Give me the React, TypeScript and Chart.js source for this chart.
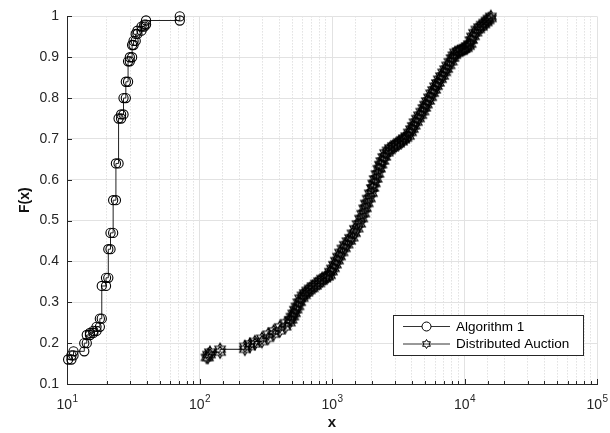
import React, { useEffect, useRef } from 'react';
import { Chart, registerables } from 'chart.js';

Chart.register(...registerables);

// ---- data ----
const seriesLabels = ['Algorithm 1', 'Distributed Auction'];

const alg1X = [10.2, 10.8, 11.2, 13.5, 14.1, 14.9, 15.8, 16.7, 17.7, 18.3, 19.7, 20.5, 21.3, 22.3, 23.4, 24.5, 25.6, 26.7, 27.8, 28.9, 29.8, 31.0, 31.8, 33.0, 34.0, 36.5, 38.3, 39.5, 71.0];
const alg1F = [0.16, 0.17, 0.18, 0.20, 0.22, 0.225, 0.23, 0.24, 0.26, 0.34, 0.36, 0.43, 0.47, 0.55, 0.64, 0.75, 0.76, 0.80, 0.84, 0.89, 0.90, 0.93, 0.94, 0.957, 0.965, 0.975, 0.98, 0.99, 1.0];

const daX = [113, 116, 120, 143, 220, 240, 262, 296, 330, 363, 404, 446, 480, 495, 510, 525, 540, 558, 575, 600, 624, 650, 680, 715, 755, 800, 840, 890, 930, 965, 1000, 1035, 1070, 1110, 1150, 1200, 1250, 1310, 1370, 1430, 1490, 1560, 1630, 1690, 1750, 1800, 1860, 1930, 2000, 2050, 2100, 2170, 2240, 2300, 2360, 2440, 2520, 2630, 2740, 2890, 3040, 3200, 3370, 3500, 3640, 3800, 3950, 4070, 4200, 4370, 4540, 4720, 4900, 5050, 5200, 5400, 5600, 5800, 6000, 6200, 6400, 6650, 6900, 7150, 7400, 7700, 8000, 8250, 8500, 8900, 9300, 9650, 10000, 10400, 10800, 11100, 11400, 11800, 12300, 12900, 13500, 14100, 14700, 15200, 15800];
const daF = [0.165, 0.172, 0.178, 0.185, 0.192, 0.198, 0.204, 0.212, 0.222, 0.230, 0.240, 0.250, 0.257, 0.265, 0.273, 0.282, 0.290, 0.300, 0.310, 0.317, 0.323, 0.329, 0.334, 0.340, 0.346, 0.352, 0.358, 0.362, 0.366, 0.375, 0.383, 0.392, 0.402, 0.412, 0.422, 0.432, 0.441, 0.450, 0.458, 0.469, 0.480, 0.492, 0.505, 0.517, 0.530, 0.542, 0.554, 0.567, 0.580, 0.591, 0.602, 0.614, 0.627, 0.637, 0.646, 0.656, 0.666, 0.672, 0.678, 0.683, 0.688, 0.693, 0.698, 0.702, 0.707, 0.716, 0.724, 0.732, 0.741, 0.750, 0.758, 0.767, 0.776, 0.784, 0.793, 0.802, 0.812, 0.820, 0.829, 0.837, 0.846, 0.854, 0.863, 0.871, 0.880, 0.889, 0.898, 0.905, 0.912, 0.915, 0.917, 0.920, 0.922, 0.927, 0.932, 0.942, 0.951, 0.960, 0.968, 0.974, 0.980, 0.985, 0.990, 0.995, 1.0];

const xMin = 10;
const xMax = 100000;
const yMin = 0.1;
const yMax = 1;
const yStep = 0.1;
const xDecades = [10, 100, 1000, 10000, 100000];
const xExponents = ['1', '2', '3', '4', '5'];

const FONT = "'Liberation Sans', Arial, Helvetica, sans-serif";
const AXIS_COLOR = '#262626';

function stairs(xs: number[], fs: number[]) {
  const pts: { x: number; y: number }[] = [];
  for (let i = 0; i < xs.length; i++) {
    if (i > 0) pts.push({ x: xs[i], y: fs[i - 1] });
    pts.push({ x: xs[i], y: fs[i] });
  }
  return pts;
}

function isPow10(v: number) {
  const l = Math.log10(v);
  return Math.abs(l - Math.round(l)) < 1e-6;
}

function makeHexagram(R: number) {
  const size = Math.ceil(R * 2 + 4);
  const c = document.createElement('canvas');
  c.width = size;
  c.height = size;
  const g = c.getContext('2d')!;
  drawHexagram(g, size / 2, size / 2, R, 1.2);
  return c;
}

function drawHexagram(g: CanvasRenderingContext2D, cx: number, cy: number, R: number, lw = 1) {
  const r = R / Math.sqrt(3);
  g.beginPath();
  for (let k = 0; k < 12; k++) {
    const ang = -Math.PI / 2 + (k * Math.PI) / 6;
    const rad = k % 2 === 0 ? R : r;
    const px = cx + rad * Math.cos(ang);
    const py = cy + rad * Math.sin(ang);
    if (k === 0) g.moveTo(px, py);
    else g.lineTo(px, py);
  }
  g.closePath();
  g.strokeStyle = '#000';
  g.lineWidth = lw;
  g.stroke();
}

const decorPlugin = {
  id: 'decor',
  afterDraw(chart: any) {
    const ctx: CanvasRenderingContext2D = chart.ctx;
    const xs = chart.scales.x;
    const ys = chart.scales.y;
    const area = chart.chartArea;
    ctx.save();
    // inward tick marks
    ctx.strokeStyle = AXIS_COLOR;
    ctx.lineWidth = 1;
    xs.ticks.forEach((t: any) => {
      const px = Math.round(xs.getPixelForValue(t.value)) + 0.5;
      ctx.beginPath();
      ctx.moveTo(px, area.bottom);
      ctx.lineTo(px, area.bottom - (isPow10(t.value) ? 5 : 3));
      ctx.stroke();
    });
    ys.ticks.forEach((t: any) => {
      const py = Math.round(ys.getPixelForValue(t.value)) + 0.5;
      ctx.beginPath();
      ctx.moveTo(area.left, py);
      ctx.lineTo(area.left + 5, py);
      ctx.stroke();
    });
    // x tick labels with superscript exponents
    ctx.fillStyle = AXIS_COLOR;
    ctx.textBaseline = 'middle';
    ctx.textAlign = 'left';
    xDecades.forEach((v, i) => {
      const px = xs.getPixelForValue(v);
      ctx.font = `14px ${FONT}`;
      const w1 = ctx.measureText('10').width;
      ctx.font = `10px ${FONT}`;
      const w2 = ctx.measureText(xExponents[i]).width;
      const start = px - (w1 + w2) / 2;
      ctx.font = `14px ${FONT}`;
      ctx.fillText('10', start, 405);
      ctx.font = `10px ${FONT}`;
      ctx.fillText(xExponents[i], start + w1 + 0.5, 399);
    });
    // legend
    const bx = 393, by = 315, bw = 190, bh = 40;
    ctx.fillStyle = '#ffffff';
    ctx.fillRect(bx, by, bw, bh);
    ctx.strokeStyle = AXIS_COLOR;
    ctx.lineWidth = 1;
    ctx.strokeRect(bx + 0.5, by + 0.5, bw, bh);
    const rows = [326.5, 344];
    chart.data.datasets.forEach((ds: any, i: number) => {
      const y = rows[i];
      ctx.strokeStyle = '#333';
      ctx.lineWidth = 1;
      ctx.beginPath();
      ctx.moveTo(403, y);
      ctx.lineTo(450, y);
      ctx.stroke();
      if (i === 0) {
        ctx.fillStyle = '#fff';
        ctx.beginPath();
        ctx.arc(426.5, y, 4.5, 0, Math.PI * 2);
        ctx.fill();
        ctx.strokeStyle = '#000';
        ctx.stroke();
      } else {
        drawHexagram(ctx, 426.5, y, 4.5);
      }
      ctx.fillStyle = '#000';
      ctx.font = `13.5px ${FONT}`;
      ctx.textBaseline = 'middle';
      ctx.fillText(ds.label, 456, y + 0.5);
    });
    ctx.restore();
  },
};

export default function App() {
  const ref = useRef<HTMLCanvasElement | null>(null);
  useEffect(() => {
    document.body.style.margin = '0';
    const canvas = ref.current!;
    const hex = makeHexagram(6);
    const chart = new Chart(canvas, {
      type: 'line',
      data: {
        datasets: [
          {
            label: seriesLabels[0],
            data: stairs(alg1X, alg1F),
            borderColor: '#222',
            borderWidth: 1,
            pointStyle: 'circle',
            pointRadius: 4.6,
            pointBorderColor: '#000',
            pointBackgroundColor: 'rgba(0,0,0,0)',
            pointBorderWidth: 1.1,
            tension: 0,
            fill: false,
            clip: false as any,
          },
          {
            label: seriesLabels[1],
            data: stairs(daX, daF),
            borderColor: '#111',
            borderWidth: 1,
            pointStyle: hex as any,
            pointRadius: 6,
            tension: 0,
            fill: false,
            clip: false as any,
          },
        ],
      },
      options: {
        responsive: false,
        animation: false,
        devicePixelRatio: 1,
        events: [],
        layout: { padding: { top: 15, right: 13, left: 0, bottom: 0 } },
        plugins: {
          legend: { display: false },
          tooltip: { enabled: false },
        },
        scales: {
          x: {
            type: 'logarithmic',
            min: xMin,
            max: xMax,
            ticks: { display: false, autoSkip: false },
            grid: {
              drawTicks: false,
              color: (c: any) => (c.tick && isPow10(c.tick.value) ? '#e2e2e2' : '#d2d2d2'),
              lineWidth: 1,
            },
            border: {
              display: true,
              color: AXIS_COLOR,
              width: 1,
              dash: (c: any) => (c.tick && !isPow10(c.tick.value) ? [1, 2] : []),
            } as any,
            title: {
              display: true,
              text: 'x',
              color: '#111',
              font: { family: FONT, size: 15, weight: 'bold' },
              padding: { top: 0, bottom: 1 },
            },
            afterFit: (s: any) => {
              s.height = 49;
            },
          },
          y: {
            type: 'linear',
            min: yMin,
            max: yMax,
            ticks: {
              stepSize: yStep,
              autoSkip: false,
              color: AXIS_COLOR,
              font: { family: FONT, size: 14 },
              padding: 8,
              callback: (v: any) => Number(Number(v).toFixed(1)).toString(),
            },
            grid: { drawTicks: false, color: '#e2e2e2', lineWidth: 1 },
            border: { display: true, color: AXIS_COLOR, width: 1 },
            title: {
              display: true,
              text: 'F(x)',
              color: '#111',
              font: { family: FONT, size: 14, weight: 'bold' },
              padding: { top: 17, bottom: 0 },
            },
            afterFit: (s: any) => {
              s.width = 67;
            },
          },
        },
      },
      plugins: [decorPlugin],
    });
    return () => chart.destroy();
  }, []);
  return (
    <div style={{ width: 610, height: 433 }}>
      <canvas ref={ref} width={610} height={433} style={{ width: 610, height: 433, display: 'block' }} />
    </div>
  );
}
